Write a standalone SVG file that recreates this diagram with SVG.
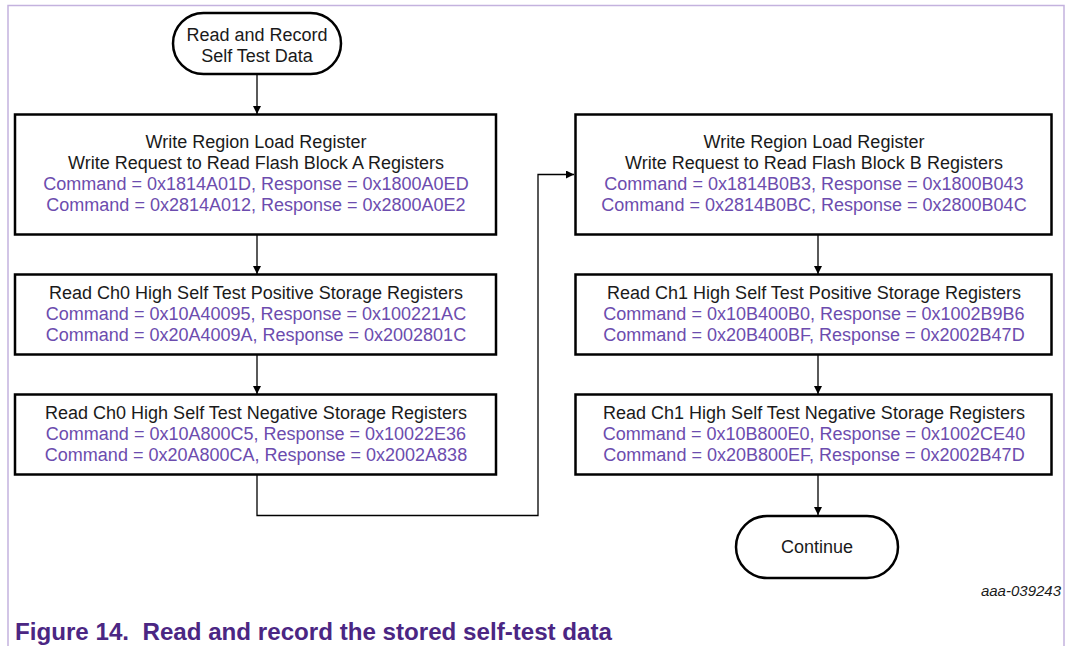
<svg xmlns="http://www.w3.org/2000/svg" width="1071" height="646" viewBox="0 0 1071 646">
  <defs>
    <style>
      .frame { fill: none; stroke: #c4b2de; stroke-width: 1.5; }
      .box { fill: #ffffff; stroke: #000000; stroke-width: 2.5; }
      .term { fill: #ffffff; stroke: #000000; stroke-width: 2.5; }
      .wire { fill: none; stroke: #000000; stroke-width: 1.3; }
      text { font-family: "Liberation Sans", Arial, sans-serif; font-size: 18px; text-anchor: middle; }
      .t { fill: #1a1a1a; }
      .c { fill: #6c4cae; }
      .tag { font-size: 15px; font-style: italic; text-anchor: end; fill: #1a1a1a; }
      .cap { font-size: 23px; font-weight: bold; text-anchor: start; fill: #4b2683; }
    </style>
    <marker id="arrow" viewBox="0 0 10 10" refX="10" refY="5" markerWidth="8" markerHeight="8" markerUnits="userSpaceOnUse" orient="auto">
      <path d="M0,0 L10,5 L0,10 z" fill="#000000"/>
    </marker>
  </defs>

  <!-- page frame, open at the bottom -->
  <path class="frame" d="M8,646 V5.5 H1064 V646"/>

  <!-- connectors -->
  <g id="connectors">
    <path class="wire" d="M257,74 V114" marker-end="url(#arrow)"/>
    <path class="wire" d="M257,235 V274" marker-end="url(#arrow)"/>
    <path class="wire" d="M257,355 V394" marker-end="url(#arrow)"/>
    <path class="wire" d="M257,475 V515.5 H538 V174.5 H574" marker-end="url(#arrow)"/>
    <path class="wire" d="M818,235 V274" marker-end="url(#arrow)"/>
    <path class="wire" d="M818,355 V394" marker-end="url(#arrow)"/>
    <path class="wire" d="M818,475 V515" marker-end="url(#arrow)"/>
  </g>

  <!-- start terminator -->
  <g id="start">
    <rect class="term" x="173" y="13" width="168" height="61" rx="30.5"/>
    <text class="t" x="257" y="41">Read and Record</text>
    <text class="t" x="257" y="62">Self Test Data</text>
  </g>

  <!-- block A column -->
  <g id="blockA-load">
    <rect class="box" x="15" y="114.5" width="481" height="120"/>
    <text class="t" x="256" y="148">Write Region Load Register</text>
    <text class="t" x="256" y="169">Write Request to Read Flash Block A Registers</text>
    <text class="c" x="256" y="190">Command = 0x1814A01D, Response = 0x1800A0ED</text>
    <text class="c" x="256" y="211">Command = 0x2814A012, Response = 0x2800A0E2</text>
  </g>

  <g id="ch0-positive">
    <rect class="box" x="15" y="274.5" width="481" height="80"/>
    <text class="t" x="256" y="299">Read Ch0 High Self Test Positive Storage Registers</text>
    <text class="c" x="256" y="320">Command = 0x10A40095, Response = 0x100221AC</text>
    <text class="c" x="256" y="341">Command = 0x20A4009A, Response = 0x2002801C</text>
  </g>

  <g id="ch0-negative">
    <rect class="box" x="15" y="394.5" width="481" height="80"/>
    <text class="t" x="256" y="419">Read Ch0 High Self Test Negative Storage Registers</text>
    <text class="c" x="256" y="440">Command = 0x10A800C5, Response = 0x10022E36</text>
    <text class="c" x="256" y="461">Command = 0x20A800CA, Response = 0x2002A838</text>
  </g>

  <!-- block B column -->
  <g id="blockB-load">
    <rect class="box" x="575.5" y="114.5" width="476" height="120"/>
    <text class="t" x="814" y="148">Write Region Load Register</text>
    <text class="t" x="814" y="169">Write Request to Read Flash Block B Registers</text>
    <text class="c" x="814" y="190">Command = 0x1814B0B3, Response = 0x1800B043</text>
    <text class="c" x="814" y="211">Command = 0x2814B0BC, Response = 0x2800B04C</text>
  </g>

  <g id="ch1-positive">
    <rect class="box" x="575.5" y="274.5" width="476" height="80"/>
    <text class="t" x="814" y="299">Read Ch1 High Self Test Positive Storage Registers</text>
    <text class="c" x="814" y="320">Command = 0x10B400B0, Response = 0x1002B9B6</text>
    <text class="c" x="814" y="341">Command = 0x20B400BF, Response = 0x2002B47D</text>
  </g>

  <g id="ch1-negative">
    <rect class="box" x="575.5" y="394.5" width="476" height="80"/>
    <text class="t" x="814" y="419">Read Ch1 High Self Test Negative Storage Registers</text>
    <text class="c" x="814" y="440">Command = 0x10B800E0, Response = 0x1002CE40</text>
    <text class="c" x="814" y="461">Command = 0x20B800EF, Response = 0x2002B47D</text>
  </g>

  <!-- end terminator -->
  <g id="continue">
    <rect class="term" x="736" y="516" width="162" height="62" rx="31"/>
    <text class="t" x="817" y="553">Continue</text>
  </g>

  <text class="tag" x="1061" y="596">aaa-039243</text>
  <text class="cap" x="15" y="640" xml:space="preserve" textLength="597" lengthAdjust="spacingAndGlyphs">Figure 14.  Read and record the stored self-test data</text>
</svg>
